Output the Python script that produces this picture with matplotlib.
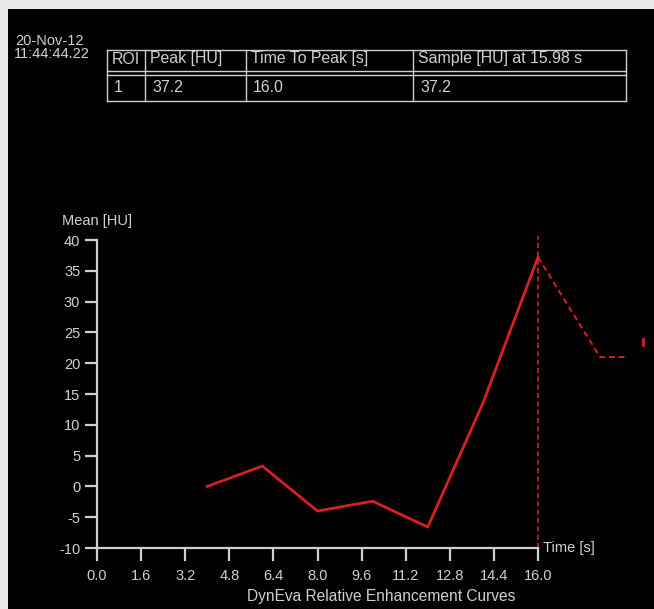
import matplotlib
matplotlib.use("Agg")
import matplotlib.pyplot as plt
from matplotlib.patches import Rectangle

plt.rcParams["axes.unicode_minus"] = False

# curve data
time_s = [4.0, 6.0, 8.0, 10.0, 12.0, 14.0, 16.0]
mean_hu = [0.0, 3.3, -4.0, -2.4, -6.6, 13.5, 37.2]
# dashed continuation after the peak
tail_time = [16.0, 18.25, 19.2]
tail_hu = [37.2, 21.0, 21.0]
peak_time = 16.0

xticks = [0.0, 1.6, 3.2, 4.8, 6.4, 8.0, 9.6, 11.2, 12.8, 14.4, 16.0]
yticks = [40, 35, 30, 25, 20, 15, 10, 5, 0, -5, -10]

table_cols = ["ROI", "Peak [HU]", "Time To Peak [s]", "Sample [HU] at 15.98 s"]
table_row = ["1", "37.2", "16.0", "37.2"]

W, H = 654, 609
fg = "#d0d0d0"
red = "#d8201f"
font = "Liberation Sans"
fs = 10.5

fig = plt.figure(figsize=(W / 100, H / 100), dpi=100)
fig.patch.set_facecolor("#e9ebea")
fig.patches.append(Rectangle((8 / W, 0), 1, 1 - 9 / H, transform=fig.transFigure,
                             facecolor="black", edgecolor="none", zorder=-5))

def px(x, y):
    return x / W, 1 - y / H

# axes: x=0 at px 97, x=16 at px 538; y=-10 at px 548, y=40 at px 240
x_per_px = 16 / (538 - 97)
left, right = 97, 650
ax = fig.add_axes([left / W, (H - 548) / H, (right - left) / W, (548 - 240) / H])
ax.set_facecolor("none")
ax.set_xlim(0, (right - left) * x_per_px)
ax.set_ylim(-10, 40)

for s in ["top", "right"]:
    ax.spines[s].set_visible(False)
for s in ["left", "bottom"]:
    ax.spines[s].set_color(fg)
    ax.spines[s].set_linewidth(1.6)
ax.spines["bottom"].set_bounds(0, 16)

ax.set_xticks(xticks)
ax.set_xticklabels([f"{v:.1f}" for v in xticks])
ax.set_yticks(yticks)
ax.tick_params(colors=fg, width=1.6, length=9, labelsize=fs)
ax.tick_params(axis="x", pad=6)
ax.tick_params(axis="y", pad=3)
for lab in ax.get_xticklabels() + ax.get_yticklabels():
    lab.set_fontfamily(font)
    lab.set_color(fg)

ax.plot(time_s, mean_hu, color=red, lw=2.0, clip_on=False)
ax.plot(tail_time, tail_hu, color=red, lw=1.4, ls=(0, (3, 2)), clip_on=False)
ax.plot([peak_time, peak_time], [-10, 40.6], color=red, lw=1.2, ls=(0, (3, 2)), clip_on=False)
ax.plot([19.8, 19.8], [22.9, 24.0], color=red, lw=2.0, clip_on=False)

fig.text(*px(62, 221), "Mean [HU]", color=fg, fontsize=fs, family=font, ha="left", va="center")
fig.text(*px(543, 548), "Time [s]", color=fg, fontsize=fs, family=font, ha="left", va="center")
fig.text(*px(381, 597), "DynEva Relative Enhancement Curves", color=fg, fontsize=11.2,
         family=font, ha="center", va="center")

fig.text(*px(15, 41), "20-Nov-12", color=fg, fontsize=fs, family=font, ha="left", va="center")
fig.text(*px(14, 54), "11:44:44.22", color=fg, fontsize=fs, family=font, ha="left", va="center")

# table drawn with lines in figure pixels
col_x = [107, 145, 246, 413, 626]
row_y = [50, 71, 75, 101]
for y in row_y:
    fig.add_artist(plt.Line2D([col_x[0] / W, col_x[-1] / W], [1 - y / H] * 2, color=fg, lw=1.0))
for x in col_x:
    fig.add_artist(plt.Line2D([x / W] * 2, [1 - row_y[0] / H, 1 - row_y[-1] / H], color=fg, lw=1.0))
for i in range(4):
    fig.text(*px(col_x[i] + 5, 59), table_cols[i], color=fg, fontsize=11.4, family=font,
             ha="left", va="center")
    fig.text(*px(col_x[i] + 7, 88), table_row[i], color=fg, fontsize=11.4, family=font,
             ha="left", va="center")

fig.savefig("out.png", dpi=100, facecolor=fig.get_facecolor())
